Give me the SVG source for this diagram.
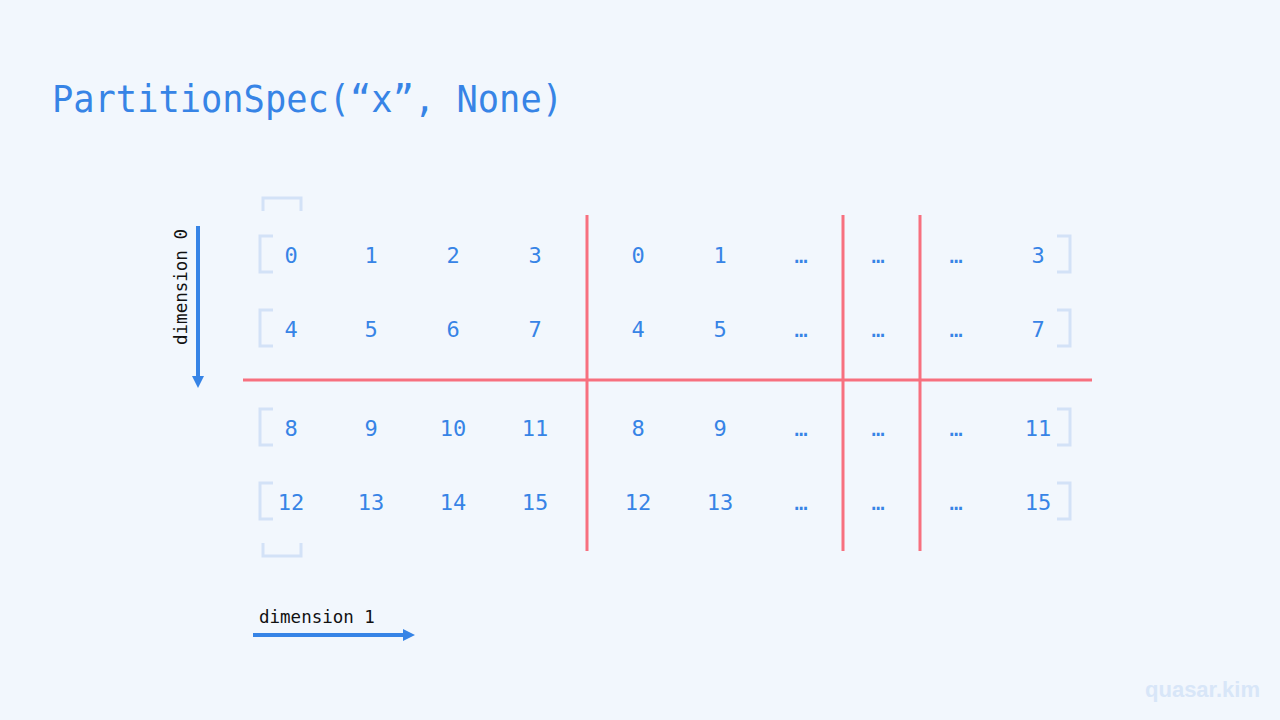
<svg xmlns="http://www.w3.org/2000/svg" width="1280" height="720" viewBox="0 0 1280 720">
<style>
.t{font-family:"DejaVu Sans Mono","Liberation Mono",monospace;fill:#3784e6}
.n{font-family:"DejaVu Sans Mono","Liberation Mono",monospace;font-size:22px;fill:#3784e6;text-anchor:middle}
.br{fill:none;stroke:#d3e2f7;stroke-width:3}
.red{stroke:#f7707f;stroke-width:3}
.lab{font-family:"DejaVu Sans Mono","Liberation Mono",monospace;font-size:17.5px;fill:#111}
</style>
<defs>
<marker id="ah" viewBox="0 0 10 10" refX="0" refY="5" markerWidth="3" markerHeight="3" orient="auto" markerUnits="strokeWidth">
<path d="M0,0 L10,5 L0,10 z" fill="#3784e6"/>
</marker>
</defs>
<rect width="1280" height="720" fill="#f2f7fd"/>
<text id="title" class="t" x="52" y="112" font-size="37" textLength="511" lengthAdjust="spacingAndGlyphs">PartitionSpec(“x”, None)</text>
<g id="brackets">
<path class="br" d="M263,211 V198 H301 V211"/>
<path class="br" d="M263,543 V556 H301 V543"/>
<path class="br" d="M273,236 H260 V272 H273"/>
<path class="br" d="M273,310 H260 V346 H273"/>
<path class="br" d="M273,409 H260 V445 H273"/>
<path class="br" d="M273,483 H260 V519 H273"/>
<path class="br" d="M1057,236 H1070 V272 H1057"/>
<path class="br" d="M1057,310 H1070 V346 H1057"/>
<path class="br" d="M1057,409 H1070 V445 H1057"/>
<path class="br" d="M1057,483 H1070 V519 H1057"/>
</g>
<g id="cells">
<g id="row0"><text class="n" x="291" y="263">0</text><text class="n" x="371" y="263">1</text><text class="n" x="453" y="263">2</text><text class="n" x="535" y="263">3</text><text class="n" x="638" y="263">0</text><text class="n" x="720" y="263">1</text><text class="n" x="801" y="263">…</text><text class="n" x="878" y="263">…</text><text class="n" x="956" y="263">…</text><text class="n" x="1038" y="263">3</text></g>
<g id="row1"><text class="n" x="291" y="337">4</text><text class="n" x="371" y="337">5</text><text class="n" x="453" y="337">6</text><text class="n" x="535" y="337">7</text><text class="n" x="638" y="337">4</text><text class="n" x="720" y="337">5</text><text class="n" x="801" y="337">…</text><text class="n" x="878" y="337">…</text><text class="n" x="956" y="337">…</text><text class="n" x="1038" y="337">7</text></g>
<g id="row2"><text class="n" x="291" y="436">8</text><text class="n" x="371" y="436">9</text><text class="n" x="453" y="436">10</text><text class="n" x="535" y="436">11</text><text class="n" x="638" y="436">8</text><text class="n" x="720" y="436">9</text><text class="n" x="801" y="436">…</text><text class="n" x="878" y="436">…</text><text class="n" x="956" y="436">…</text><text class="n" x="1038" y="436">11</text></g>
<g id="row3"><text class="n" x="291" y="510">12</text><text class="n" x="371" y="510">13</text><text class="n" x="453" y="510">14</text><text class="n" x="535" y="510">15</text><text class="n" x="638" y="510">12</text><text class="n" x="720" y="510">13</text><text class="n" x="801" y="510">…</text><text class="n" x="878" y="510">…</text><text class="n" x="956" y="510">…</text><text class="n" x="1038" y="510">15</text></g>
</g>
<g id="partitions">
<line class="red" x1="243" y1="380" x2="1092" y2="380"/>
<line class="red" x1="587" y1="215" x2="587" y2="551"/>
<line class="red" x1="843" y1="215" x2="843" y2="551"/>
<line class="red" x1="920" y1="215" x2="920" y2="551"/>
</g>
<g id="connectors">
<line x1="198" y1="226" x2="198" y2="376" stroke="#3784e6" stroke-width="4" marker-end="url(#ah)"/>
<line x1="253" y1="635" x2="403" y2="635" stroke="#3784e6" stroke-width="4" marker-end="url(#ah)"/>
</g>
<g id="dim0"><text class="lab" transform="translate(187,287) rotate(-90)" text-anchor="middle">dimension 0</text></g>
<g id="dim1"><text class="lab" x="259" y="623">dimension 1</text></g>
<text x="1145" y="697" font-family="Liberation Sans,Arial,sans-serif" font-weight="bold" font-size="22" fill="#d8e6f8" textLength="115">quasar.kim</text>
</svg>
